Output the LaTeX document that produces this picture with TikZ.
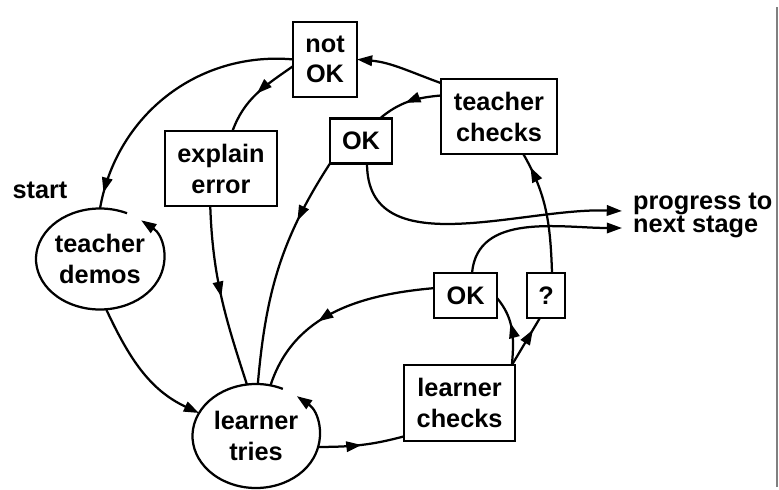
\documentclass[tikz,border=0pt]{standalone}
\usepackage{fontspec}
\setmainfont{Liberation Sans}
\usetikzlibrary{arrows.meta,shapes.geometric,decorations.markings}

\begin{document}
\begin{tikzpicture}[
    font=\fontsize{18}{22}\selectfont\bfseries,
    line width=1.6pt,
    >={Triangle[length=3.8mm, width=2.6mm]},
    box/.style={draw, align=center, inner sep=0pt, outer sep=0pt},
    oval/.style={ellipse, align=center, inner sep=0pt, outer sep=0pt},
    midarrow/.style={postaction={decorate}, decoration={markings,
        mark=at position #1 with {\arrow{Triangle[length=3.8mm, width=2.6mm]}}}},
    midarrow/.default=0.5,
]
    \useasboundingbox (0, 0) rectangle (19.475, 12.225);

    \path (8.125, 10.74)  node[box, minimum width=1.6cm, minimum height=1.875cm]   (notok)   {not\\OK};
    \path (5.525, 8.01)   node[box, minimum width=2.8cm, minimum height=1.875cm]   (explain) {explain\\error};
    \path (9.025, 8.7)    node[box, minimum width=1.55cm, minimum height=1.125cm]  (okA)     {OK};
    \path (12.475, 9.31)  node[box, minimum width=2.9cm, minimum height=1.875cm]   (tchecks) {teacher\\checks};
    \path (2.5, 5.75)     node[oval, minimum width=3.2cm, minimum height=2.525cm]  (tdemos)  {teacher\\demos};
    \path (6.4, 1.325)    node[oval, minimum width=3.175cm, minimum height=2.6cm]  (ltries)  {learner\\tries};
    \path (11.49, 2.15)   node[box, minimum width=2.775cm, minimum height=1.9cm]   (lchecks) {learner\\checks};
    \path (11.64, 4.84)   node[box, minimum width=1.575cm, minimum height=1.125cm] (okB)     {OK};
    \path (13.65, 4.84)   node[box, minimum width=0.95cm, minimum height=1.125cm]  (query)   {?};
    \path (1.0, 7.475)    node (start) {start};
    \path (15.8, 6.84)    node[anchor=west, align=left, inner sep=0pt,
                               font=\fontsize{18}{16.5}\selectfont\bfseries] (progress) {progress to\\next stage};
    \coordinate (next1) at (15.55, 6.95);
    \coordinate (next2) at (15.55, 6.525);

    % the two loops round the ovals
    \draw[->] (tdemos.center) ++(65:1.6 and 1.2625)
        arc[start angle=65, end angle=410, x radius=1.6, y radius=1.2625];
    \draw[->] (ltries.center) ++(65:1.5875 and 1.3)
        arc[start angle=65, end angle=410, x radius=1.5875, y radius=1.3];

    \draw[->] (tchecks.150) to[out=160, in=-5] (notok.east);
    \draw[midarrow=0.55] (tchecks.160) to[out=185, in=40] (okA.50);
    \draw[midarrow=0.94] (notok.west) to[out=175, in=80] (tdemos.north);
    \draw[midarrow] (notok.192) to[out=215, in=70] (explain.73);
    \draw[midarrow] (explain.254) to[out=-88, in=108] (ltries.100);
    \draw[midarrow=0.28] (okA.south west) to[out=237, in=85] (ltries.88);
    \draw[->] (okA.285) to[out=-90, in=178] (next1);
    \draw[midarrow=0.88] (query.75) to[out=92, in=-60] (tchecks.303);
    \draw[->] (okB.74) to[out=85, in=180] (next2);
    \draw[midarrow=0.6] (okB.167) to[out=185, in=72] (ltries.74);
    \draw[midarrow] (ltries.-10) to[out=0, in=195] (lchecks.211);
    \draw[midarrow=0.6] (lchecks.36) to[out=85, in=-50] (okB.-5);
    \draw[midarrow=0.75] (lchecks.36) -- (query.255);
    \draw[->] (tdemos.-83) to[out=-65, in=155] (ltries.158);

    \draw[gray, line width=1pt] (19.425, 0.05) -- (19.425, 12.05);
\end{tikzpicture}
\end{document}
